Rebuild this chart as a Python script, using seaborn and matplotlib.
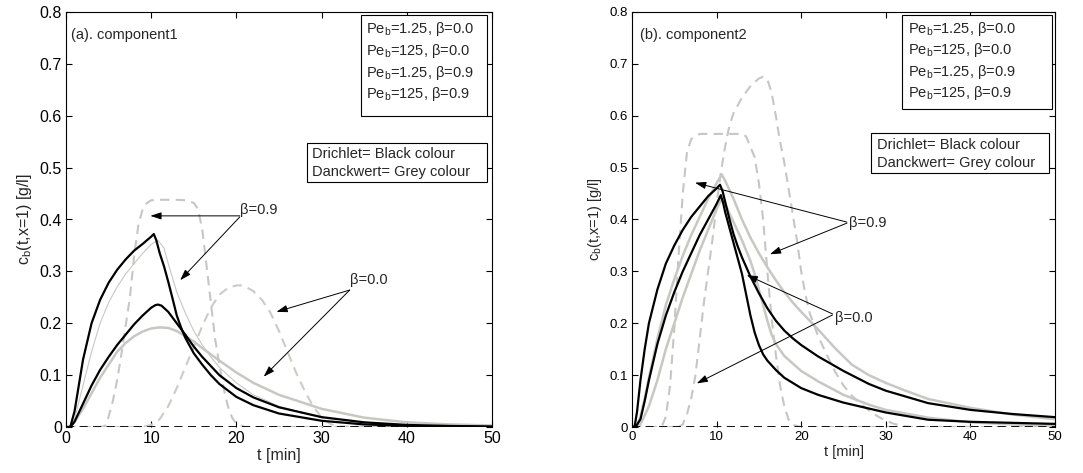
import matplotlib
matplotlib.use("Agg")
from matplotlib import pyplot as plt
from matplotlib.patches import Rectangle
import seaborn as sns

# ---------------- component1 (left panel) ----------------
a_black_hi_t = [0, 0.5, 1, 1.5, 2, 3, 4, 5, 6, 7, 8, 9, 9.5, 10, 10.3, 10.6, 11, 11.5, 12, 12.5, 13, 13.5, 14, 15, 16,
                17, 18, 20, 22, 25, 30, 35, 40, 45, 50]
a_black_hi_c = [0, 0, 0.03, 0.08, 0.13, 0.2, 0.245, 0.278, 0.303, 0.323, 0.34, 0.353, 0.36, 0.367, 0.372, 0.36, 0.335,
                0.31, 0.28, 0.248, 0.215, 0.192, 0.172, 0.142, 0.12, 0.1, 0.083, 0.058, 0.042, 0.026, 0.012, 0.005,
                0.002, 0.001, 0]

a_black_lo_t = [0, 0.5, 1, 2, 3, 4, 5, 6, 7, 8, 9, 10, 10.5, 10.8, 11.2, 12, 13, 14, 15, 16, 18, 20, 22, 25, 30, 35, 40,
                45, 50]
a_black_lo_c = [0, 0, 0.01, 0.045, 0.08, 0.11, 0.135, 0.158, 0.178, 0.198, 0.215, 0.23, 0.235, 0.236, 0.234, 0.222, 0.2,
                0.178, 0.155, 0.135, 0.1, 0.075, 0.057, 0.038, 0.019, 0.009, 0.004, 0.002, 0.001]

a_grey_thin_t = [0, 0.5, 1, 2, 3, 4, 5, 6, 7, 8, 9, 10, 10.8, 11.5, 12, 13, 14, 15, 16, 17, 18, 20, 22, 25, 30, 35, 40, 45, 50]
a_grey_thin_c = [0, 0, 0.015, 0.08, 0.145, 0.2, 0.24, 0.27, 0.295, 0.315, 0.335, 0.352, 0.36, 0.345, 0.315, 0.26, 0.22,
                 0.185, 0.158, 0.135, 0.115, 0.085, 0.062, 0.04, 0.018, 0.008, 0.003, 0.001, 0]

a_grey_thick_t = [0, 0.5, 1, 2, 3, 4, 5, 6, 7, 8, 9, 10, 11, 12, 13, 14, 15, 16, 18, 20, 22, 25, 30, 35, 40, 45, 50]
a_grey_thick_c = [0, 0, 0.01, 0.035, 0.065, 0.095, 0.12, 0.145, 0.162, 0.175, 0.184, 0.19, 0.192, 0.191, 0.185, 0.175,
                  0.165, 0.152, 0.128, 0.105, 0.085, 0.062, 0.035, 0.018, 0.009, 0.005, 0.003]

a_dash_plateau_t = [0, 4, 4.6, 5, 5.5, 6, 6.5, 7, 7.5, 8, 8.5, 9, 9.5, 10, 11, 12, 13, 14, 15, 15.5, 16, 16.5, 17, 17.5,
                    18, 18.5, 19, 19.5, 20, 21, 50]
a_dash_plateau_c = [0, 0, 0.002, 0.02, 0.05, 0.09, 0.14, 0.195, 0.25, 0.33, 0.39, 0.42, 0.432, 0.437, 0.438, 0.438,
                    0.438, 0.437, 0.432, 0.42, 0.38, 0.31, 0.24, 0.17, 0.12, 0.075, 0.04, 0.018, 0.006, 0, 0]

a_dash_bell_t = [0, 9, 10, 11, 12, 13, 14, 15, 16, 17, 18, 19, 20, 20.5, 21, 22, 23, 24, 25, 26, 27, 28, 29, 30, 31, 32, 50]
a_dash_bell_c = [0, 0, 0.004, 0.015, 0.04, 0.075, 0.115, 0.155, 0.195, 0.23, 0.255, 0.268, 0.273, 0.273, 0.271, 0.262,
                 0.245, 0.22, 0.185, 0.145, 0.105, 0.07, 0.04, 0.018, 0.006, 0.001, 0]

# ---------------- component2 (right panel) ----------------
b_black_slow_t = [0, 0.3, 0.6, 1, 1.5, 2, 3, 4, 5, 6, 7, 8, 9, 10, 10.4, 10.7, 11, 11.5, 12, 12.5, 13, 14, 15, 16, 17,
                  18, 19, 20, 22, 25, 28, 30, 35, 40, 45, 50]
b_black_slow_c = [0, 0, 0.03, 0.09, 0.15, 0.2, 0.265, 0.315, 0.35, 0.38, 0.405, 0.425, 0.445, 0.46, 0.467, 0.455, 0.435,
                  0.402, 0.372, 0.348, 0.327, 0.29, 0.258, 0.229, 0.205, 0.186, 0.171, 0.158, 0.136, 0.108, 0.083,
                  0.07, 0.046, 0.033, 0.025, 0.019]

b_black_fast_t = [0, 0.5, 1, 1.5, 2, 3, 4, 5, 6, 7, 8, 9, 10, 10.5, 10.8, 11, 11.5, 12, 13, 13.5, 14, 14.5, 15, 15.5,
                  16, 17, 18, 20, 22, 25, 30, 35, 40, 45, 50]
b_black_fast_c = [0, 0.002, 0.015, 0.05, 0.09, 0.16, 0.215, 0.26, 0.3, 0.335, 0.37, 0.4, 0.43, 0.447, 0.43, 0.415, 0.385,
                  0.355, 0.295, 0.255, 0.215, 0.182, 0.158, 0.14, 0.128, 0.11, 0.095, 0.075, 0.062, 0.047, 0.028,
                  0.014, 0.01, 0.008, 0.006]

b_grey_hi_t = [0, 0.5, 1, 1.5, 2, 3, 4, 5, 6, 7, 8, 9, 10, 10.6, 11, 12, 13, 14, 15, 16, 17, 18, 19, 20, 21, 22, 23, 24,
               25, 26, 28, 30, 32, 35, 40, 45, 50]
b_grey_hi_c = [0, 0, 0.02, 0.055, 0.095, 0.17, 0.235, 0.285, 0.33, 0.37, 0.405, 0.44, 0.47, 0.487, 0.475, 0.44, 0.4,
               0.365, 0.335, 0.308, 0.283, 0.26, 0.24, 0.222, 0.205, 0.188, 0.17, 0.152, 0.136, 0.12, 0.1, 0.085,
               0.072, 0.054, 0.037, 0.024, 0.015]

b_grey_lo_t = [0, 0.5, 1, 2, 3, 4, 5, 6, 7, 8, 9, 10, 10.6, 11, 12, 13, 14, 14.5, 15, 15.5, 16, 16.5, 17, 18, 20, 22,
               25, 28, 30, 35, 40, 45, 50]
b_grey_lo_c = [0, 0, 0.005, 0.04, 0.09, 0.15, 0.2, 0.25, 0.295, 0.34, 0.38, 0.42, 0.44, 0.43, 0.395, 0.36, 0.32, 0.295,
               0.265, 0.235, 0.205, 0.178, 0.16, 0.137, 0.108, 0.088, 0.062, 0.043, 0.033, 0.018, 0.009, 0.005, 0.003]

b_dash_plateau_t = [0, 3.5, 4, 4.5, 5, 5.5, 6, 6.5, 7, 8, 9, 10, 11, 12, 13, 13.5, 14, 14.5, 15, 15.5, 16, 16.5, 17,
                    17.5, 18, 18.5, 19, 20, 50]
b_dash_plateau_c = [0, 0, 0.02, 0.08, 0.19, 0.33, 0.45, 0.53, 0.555, 0.565, 0.565, 0.565, 0.565, 0.565, 0.565, 0.56,
                    0.54, 0.52, 0.47, 0.4, 0.3, 0.21, 0.14, 0.08, 0.04, 0.015, 0.004, 0, 0]

b_dash_peak_t = [0, 5.5, 6, 6.5, 7, 7.5, 8, 8.5, 9, 9.5, 10, 10.5, 11, 11.5, 12, 13, 14, 15, 15.5, 16, 16.5, 17, 17.5,
                 18, 18.5, 19, 19.5, 20, 20.5, 21, 22, 23, 24, 25, 26, 27, 28, 29, 30, 31, 32, 33, 50]
b_dash_peak_c = [0, 0, 0.005, 0.025, 0.055, 0.1, 0.17, 0.24, 0.3, 0.36, 0.43, 0.49, 0.54, 0.58, 0.605, 0.635, 0.657,
                 0.672, 0.675, 0.67, 0.645, 0.6, 0.55, 0.51, 0.46, 0.41, 0.36, 0.3, 0.255, 0.22, 0.175, 0.14, 0.107,
                 0.08, 0.06, 0.045, 0.032, 0.021, 0.012, 0.006, 0.002, 0, 0]

# Drichlet, Pe_b=125 stays on zero in both panels
zero_t = [0, 50]
zero_c = [0, 0]

legend_lines = [r"Pe$_\mathrm{b}$=1.25, β=0.0", r"Pe$_\mathrm{b}$=125, β=0.0",
                r"Pe$_\mathrm{b}$=1.25, β=0.9", r"Pe$_\mathrm{b}$=125, β=0.9"]
colour_lines = ["Drichlet= Black colour", "Danckwert= Grey colour"]

BLACK = "black"
GREY = "#c9c7c2"
DGREY = "#c6c6c6"
DASH = (0, (4.5, 3))


def curve(ax, t, c, color, lw, ls="-"):
    sns.lineplot(x=t, y=c, ax=ax, color=color, linewidth=lw, linestyle=ls,
                 estimator=None, sort=False)


def arrow(ax, tail, head):
    ax.annotate("", xy=head, xytext=tail,
                arrowprops=dict(arrowstyle="-|>,head_length=0.55,head_width=0.18",
                                color="black", lw=0.7, shrinkA=0, shrinkB=0))


def setup(ax, tick_fs, label_fs):
    ax.set_xlim(0, 50)
    ax.set_ylim(0, 0.8)
    ax.set_xticks([0, 10, 20, 30, 40, 50])
    ax.set_yticks([0, 0.1, 0.2, 0.3, 0.4, 0.5, 0.6, 0.7, 0.8])
    ax.set_yticklabels(["0", "0.1", "0.2", "0.3", "0.4", "0.5", "0.6", "0.7", "0.8"])
    ax.tick_params(direction="in", top=True, right=True, length=4, width=0.8,
                   labelsize=tick_fs, pad=3, colors="black")
    for s in ax.spines.values():
        s.set_color("black")
        s.set_linewidth(0.8)
    ax.spines["bottom"].set_visible(False)
    ax.set_xlabel("t [min]", fontsize=label_fs, labelpad=1)
    ax.set_ylabel(r"c$_\mathrm{b}$(t,x=1) [g/l]", fontsize=label_fs, labelpad=4)


def boxes(ax, ax_left_px, ax_w_px, box1, lines1_y, text1_x, box2, lines2_y, text2_x):
    def fx(px):
        return (px - ax_left_px) / ax_w_px

    def fy(py):
        return (427 - py) / 415

    x0, y0, x1, y1 = box1
    ax.add_patch(Rectangle((fx(x0), fy(y1)), fx(x1) - fx(x0), fy(y0) - fy(y1), transform=ax.transAxes,
                           facecolor="white", edgecolor="black", lw=0.8, zorder=5))
    for s, py in zip(legend_lines, lines1_y):
        ax.text(fx(text1_x), fy(py), s, transform=ax.transAxes, fontsize=10.5, ha="left", va="center", zorder=6)
    x0, y0, x1, y1 = box2
    ax.add_patch(Rectangle((fx(x0), fy(y1)), fx(x1) - fx(x0), fy(y0) - fy(y1), transform=ax.transAxes,
                           facecolor="white", edgecolor="black", lw=0.8, zorder=5))
    for s, py in zip(colour_lines, lines2_y):
        ax.text(fx(text2_x), fy(py), s, transform=ax.transAxes, fontsize=10.5, ha="left", va="center", zorder=6)


def main():
    sns.set_theme(style="ticks")
    plt.rcParams["font.family"] = ["Liberation Sans", "DejaVu Sans"]
    plt.rcParams["mathtext.fontset"] = "custom"
    plt.rcParams["mathtext.rm"] = "Liberation Sans"
    plt.rcParams["mathtext.it"] = "Liberation Sans:italic"
    plt.rcParams["axes.unicode_minus"] = False

    fig = plt.figure(figsize=(10.83, 4.73), dpi=100)
    fig.patch.set_facecolor("white")
    ax1 = fig.add_axes([66 / 1083, 46 / 473, 426 / 1083, 415 / 473])
    ax2 = fig.add_axes([632 / 1083, 46 / 473, 423 / 1083, 415 / 473])

    # (a) component1
    curve(ax1, a_dash_plateau_t, a_dash_plateau_c, DGREY, 1.5, DASH)
    curve(ax1, a_dash_bell_t, a_dash_bell_c, "#c8cec4", 1.5, DASH)
    curve(ax1, a_grey_thick_t, a_grey_thick_c, GREY, 1.8)
    curve(ax1, a_grey_thin_t, a_grey_thin_c, GREY, 0.8)
    curve(ax1, a_black_lo_t, a_black_lo_c, BLACK, 1.6)
    curve(ax1, a_black_hi_t, a_black_hi_c, BLACK, 1.6)
    curve(ax1, zero_t, zero_c, BLACK, 1.3, DASH)
    setup(ax1, 11.5, 11.5)
    ax1.text(0.6, 0.755, "(a). component1", fontsize=10.5, ha="left", va="center")
    ax1.text(20.4, 0.418, "β=0.9", fontsize=10.5, ha="left", va="center")
    arrow(ax1, (20.4, 0.407), (9.9, 0.407))
    arrow(ax1, (20.4, 0.405), (13.4, 0.283))
    ax1.text(33.3, 0.283, "β=0.0", fontsize=10.5, ha="left", va="center")
    arrow(ax1, (33.3, 0.264), (24.7, 0.222))
    arrow(ax1, (33.3, 0.264), (23.2, 0.097))
    boxes(ax1, 66, 426, (360.7, 15, 487.3, 116), [29, 51, 73, 94], 366,
          (306.7, 142.7, 486.7, 181.7), [153.7, 171.7], 312.3)

    # (b) component2
    curve(ax2, b_dash_plateau_t, b_dash_plateau_c, DGREY, 1.5, DASH)
    curve(ax2, b_dash_peak_t, b_dash_peak_c, DGREY, 1.5, DASH)
    curve(ax2, b_grey_hi_t, b_grey_hi_c, GREY, 1.8)
    curve(ax2, b_grey_lo_t, b_grey_lo_c, GREY, 1.8)
    curve(ax2, b_black_fast_t, b_black_fast_c, BLACK, 1.6)
    curve(ax2, b_black_slow_t, b_black_slow_c, BLACK, 1.6)
    curve(ax2, zero_t, zero_c, BLACK, 1.3, DASH)
    setup(ax2, 9.5, 10.5)
    ax2.text(0.9, 0.755, "(b). component2", fontsize=10.5, ha="left", va="center")
    ax2.text(25.6, 0.393, "β=0.9", fontsize=10.5, ha="left", va="center")
    arrow(ax2, (25.4, 0.395), (7.45, 0.471))
    arrow(ax2, (25.4, 0.393), (16.3, 0.333))
    ax2.text(24.0, 0.211, "β=0.0", fontsize=10.5, ha="left", va="center")
    arrow(ax2, (23.7, 0.218), (13.56, 0.293))
    arrow(ax2, (23.7, 0.216), (7.65, 0.084))
    boxes(ax2, 632, 423, (901.7, 15, 1052.3, 109.3), [29, 50, 72, 93], 907.7,
          (871, 133.3, 1049, 173.3), [145, 162.7], 877.3)

    fig.savefig("out.png", dpi=100, facecolor="white")


if __name__ == "__main__":
    main()
